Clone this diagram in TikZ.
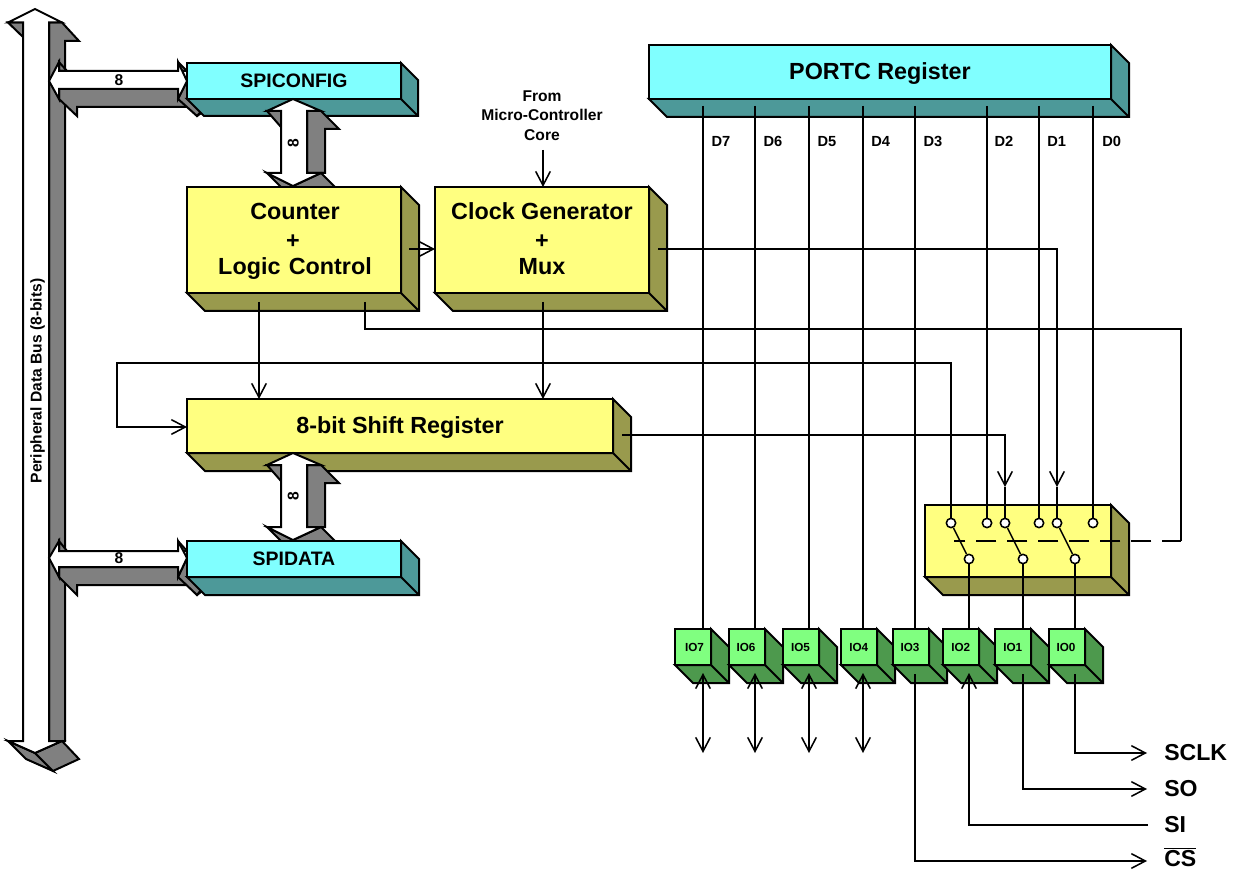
\documentclass[tikz,border=0pt]{standalone}
\usepackage{fontspec}
\setmainfont{Liberation Sans}
\usetikzlibrary{arrows.meta}
\definecolor{cy}{HTML}{80FFFF}\definecolor{cyd}{HTML}{4D9999}
\definecolor{ye}{HTML}{FFFF80}\definecolor{yed}{HTML}{999A4D}
\definecolor{gr}{HTML}{80FF80}\definecolor{grd}{HTML}{4D994D}
\definecolor{gy}{HTML}{808080}
\tikzset{
 x=0.75pt,y=-0.75pt,
 edge/.style={line width=1.5pt,line join=miter,draw=black},
 wire/.style={line width=1.15pt,draw=black},
 tip/.style={wire,-{Straight Barb[length=10.5pt,width=11pt,line width=1.15pt]}},
 tips/.style={wire,{Straight Barb[length=10.5pt,width=11pt,line width=1.15pt]}-{Straight Barb[length=10.5pt,width=11pt,line width=1.15pt]}},
 pin/.style={circle,draw=black,fill=white,line width=1.15pt,minimum size=7pt,inner sep=0pt},
 big/.style={font=\fontsize{17.5}{20}\bfseries\selectfont,inner sep=0pt,anchor=base},
 mid/.style={font=\fontsize{14.6}{17}\bfseries\selectfont,inner sep=0pt,anchor=base},
 small/.style={font=\fontsize{11.7}{14}\bfseries\selectfont,inner sep=0pt,anchor=base},
 dl/.style={font=\fontsize{11}{13}\bfseries\selectfont,inner sep=0pt,anchor=base},
 iol/.style={font=\fontsize{8.8}{10}\bfseries\selectfont,inner sep=0pt,anchor=base},
 sig/.style={font=\fontsize{17.3}{20}\bfseries\selectfont,inner sep=0pt,anchor=base west},
}
% name, x1,y1,x2,y2, depth, front, side
\newcommand{\tdbox}[8]{%
 \pgfmathsetmacro{\bxe}{#4+#6}\pgfmathsetmacro{\bye}{#5+#6}%
 \pgfmathsetmacro{\bxl}{#2+#6}\pgfmathsetmacro{\byt}{#3+#6}%
 \pgfmathsetmacro{\bwd}{(#4-#2)*0.75}\pgfmathsetmacro{\bht}{(#5-#3)*0.75}%
 \pgfmathsetmacro{\bcx}{(#2+#4)/2}\pgfmathsetmacro{\bcy}{(#3+#5)/2}%
 \draw[edge,fill=#8] (#2,#5)--(\bxl,\bye)--(\bxe,\bye)--(\bxe,\byt)--(#4,#3)--(#4,#5)--cycle;
 \draw[edge] (#4,#5)--(\bxe,\bye);
 \node[edge,fill=#7,minimum width=\bwd pt,minimum height=\bht pt,inner sep=0pt,outer sep=0pt] (#1) at (\bcx,\bcy) {};
}
% horizontal double arrow: corner top, shaft top, mid, shaft bottom, corner bottom, depth line, head depth
\newcommand{\hbig}[7]{%
 \draw[edge,fill=gy] (59,#4)--(59,#5)--(77,#7)--(77,#6)--(188,#6)--(197,#7)--(210,#6)--(178,#4)--cycle;
 \draw[edge,fill=gy] (178,#5)--(197,#7)--(205,#6)--(187,#3)--cycle;
 \draw[edge,fill=gy] (59,#1)--(67,#2)--(59,#2)--cycle;
 \draw[edge,fill=gy] (178,#1)--(187,#2)--(178,#2)--cycle;
 \draw[edge,fill=white] (49,#3)--(59,#1)--(59,#2)--(178,#2)--(178,#1)--(187,#3)--(178,#5)--(178,#4)--(59,#4)--(59,#5)--cycle;
}
% vertical double arrow
\newcommand{\vbig}{%
 \draw[edge,fill=gy] (267,111)--(281,127)--(281,111)--cycle;
 \draw[edge,fill=gy] (307,111)--(321,111)--(339,129)--(325,129)--(325,173)--(307,173)--cycle;
 \draw[edge,fill=gy] (267,173)--(293,186)--(311,204)--(285,191)--cycle;
 \draw[edge,fill=gy] (293,186)--(321,173)--(339,191)--(311,204)--cycle;
 \draw[edge,fill=white] (293,99)--(321,111)--(307,111)--(307,173)--(321,173)--(293,186)--(267,173)--(281,173)--(281,111)--(267,111)--cycle;
}
\begin{document}
\begin{tikzpicture}
\useasboundingbox (0,0) rectangle (1233,870);
\fill[white] (0,0) rectangle (1233,870);
% peripheral bus
\draw[edge,fill=gy] (8,22.5)--(23,37)--(23,22.5)--cycle;
\draw[edge,fill=gy] (49,22.5)--(62,22.5)--(79,41)--(65,41)--(65,741)--(49,741)--cycle;
\draw[edge,fill=gy] (8,741)--(35,753)--(53,771)--(26,759)--cycle;
\draw[edge,fill=gy] (35,753)--(62,741)--(79,759)--(53,771)--cycle;
\draw[edge,fill=white] (35,9)--(62,22.5)--(49,22.5)--(49,741)--(62,741)--(35,753)--(8,741)--(23,741)--(23,22.5)--(8,22.5)--cycle;
\node[small,rotate=90] (buslabel) at (41.5,381) {Peripheral Data Bus (8-bits)};
% horizontal links
\hbig{62}{71}{81}{89}{99}{107}{116}
\hbig{541}{551}{558}{567}{577}{585}{595}
\node[small] (lblA) at (119,86) {8};
\node[small] (lblB) at (119,563.5) {8};
% boxes and wide arrows
\tdbox{spiconfig}{187}{63}{401}{99}{17}{cy}{cyd}
\node[mid] (tA) at (294,87.3) {SPICONFIG};
\vbig
\node[small,rotate=90] (lblC) at (298.5,143) {8};
\tdbox{counter}{187}{187}{401}{293}{18}{ye}{yed}
\node[big] (tB) at (295,220) {Counter};
\node[big] (tC) at (293,249) {+};
\node[big] (tD) at (295,275) {Logic\hspace{0.08em} Control};
\tdbox{clock}{435}{187}{649}{293}{18}{ye}{yed}
\node[big] (tE) at (542,220) {Clock Generator};
\node[big] (tF) at (542,249) {+};
\node[big] (tG) at (542,275) {Mux};
\tdbox{shift}{187}{399}{613}{453}{18}{ye}{yed}
\node[big] (tH) at (400,433) {8-bit Shift Register};
\begin{scope}[shift={(0,354)}]\vbig\end{scope}
\node[small,rotate=90] (lblD) at (298.5,496) {8};
\tdbox{spidata}{187}{541}{401}{577}{18}{cy}{cyd}
\node[mid] (tI) at (294,565) {SPIDATA};
\tdbox{portc}{649}{45}{1111}{99}{18}{cy}{cyd}
\node[big] (tJ) at (880,79.3) {PORTC Register};
\tdbox{sw}{925}{505}{1111}{577}{18}{ye}{yed}
\tdbox{io7}{675}{629}{711}{665}{18}{gr}{grd}
\tdbox{io6}{729}{629}{765}{665}{18}{gr}{grd}
\tdbox{io5}{783}{629}{819}{665}{18}{gr}{grd}
\tdbox{io4}{841}{629}{877}{665}{18}{gr}{grd}
\tdbox{io3}{893}{629}{929}{665}{18}{gr}{grd}
\tdbox{io2}{943}{629}{979}{665}{18}{gr}{grd}
\tdbox{io1}{995}{629}{1031}{665}{18}{gr}{grd}
\tdbox{io0}{1049}{629}{1085}{665}{18}{gr}{grd}
\foreach \x/\t in {694.5/IO7,746/IO6,800.5/IO5,858.8/IO4,910/IO3,960.8/IO2,1012.8/IO1,1066/IO0}
  \node[iol] (l\t) at (\x,651) {\t};
% switch pins
\node[pin] (p1) at (951,523) {};
\node[pin] (p2) at (987,523) {};
\node[pin] (p3) at (1005,523) {};
\node[pin] (p4) at (1039,523) {};
\node[pin] (p5) at (1057,523) {};
\node[pin] (p6) at (1093,523) {};
\node[pin] (q1) at (969,559) {};
\node[pin] (q2) at (1023,559) {};
\node[pin] (q3) at (1075,559) {};
\draw[wire] (p1)--(q1);
\draw[wire] (p3)--(q2);
\draw[wire] (p5)--(q3);
% PORTC data lines
\foreach \n/\x in {a/703,b/755,c/809,d/863,e/915}{
  \coordinate (s\n) at (\x,106);
  \coordinate (e\n) at (\x,629);
  \draw[wire] (s\n)--(e\n);
}
\foreach \n/\x/\e in {f/987/p2,g/1039/p4,h/1093/p6}{
  \coordinate (s\n) at (\x,106);
  \draw[wire] (s\n)--(\e);
}
\node[dl] (d7) at (721,146.7) {D7};
\node[dl] (d6) at (773,146.7) {D6};
\node[dl] (d5) at (827,146.7) {D5};
\node[dl] (d4) at (880.7,146.7) {D4};
\node[dl] (d3) at (933,146.7) {D3};
\node[dl] (d2) at (1004,146.7) {D2};
\node[dl] (d1) at (1056.7,146.7) {D1};
\node[dl] (d0) at (1111.7,146.7) {D0};
% IO to switch
\coordinate (ioa) at (969,629);\coordinate (iob) at (1023,629);\coordinate (ioc) at (1075,629);
\draw[wire] (q1)--(ioa);\draw[wire] (q2)--(iob);\draw[wire] (q3)--(ioc);
% clock input
\node[small] (fromA) at (542,102) {From};
\node[small] (fromB) at (542,120.7) {Micro-Controller};
\node[small] (fromC) at (542,141) {Core};
\coordinate (fromEnd) at (543,150);\coordinate (clkIn) at (543,187);
\draw[tip] (fromEnd)--(clkIn);
% control connectors
\coordinate (cntR) at (409,249);\coordinate (clkL) at (435,249);
\draw[tip] (cntR)--(clkL);
\coordinate (cntB) at (259,302);\coordinate (shT1) at (259,399);
\draw[tip] (cntB)--(shT1);
\coordinate (clkB) at (543,302);\coordinate (shT2) at (543,399);
\draw[tip] (clkB)--(shT2);
\coordinate (clkR) at (658,249);\coordinate (clkC) at (1057,249);\coordinate (clkT) at (1057,487);
\draw[tip] (clkR)--(clkC)--(clkT);
\draw[wire] (clkT)--(p5);
\coordinate (shR) at (622,435);\coordinate (shC) at (1005,435);\coordinate (shX) at (1005,487);
\draw[tip] (shR)--(shC)--(shX);
\draw[wire] (shX)--(p3);
\coordinate (fbA) at (951,363);\coordinate (fbB) at (117,363);\coordinate (fbC) at (117,427);\coordinate (shL) at (187,427);
\draw[tip] (p1)--(fbA)--(fbB)--(fbC)--(shL);
\coordinate (ctlA) at (365,302);\coordinate (ctlB) at (365,329);\coordinate (ctlC) at (1181,329);\coordinate (ctlD) at (1181,541);\coordinate (ctlE) at (954,541);
\draw[wire] (ctlA)--(ctlB)--(ctlC)--(ctlD);
\draw[wire,dash pattern=on 15.3pt off 7.95pt,dash phase=1pt] (ctlD)--(ctlE);
% IO pads
\foreach \x/\n in {703/a,755/b,809/c,863/d}{
  \coordinate (u\n) at (\x,673);\coordinate (v\n) at (\x,753);
  \draw[tips] (u\n)--(v\n);
}
\coordinate (k3) at (915,674);\coordinate (k3b) at (915,861);\coordinate (k3e) at (1147,861);
\draw[tip] (k3)--(k3b)--(k3e);
\coordinate (k2) at (969,673);\coordinate (k2b) at (969,825);\coordinate (k2e) at (1148,825);
\draw[tip] (k2e)--(k2b)--(k2);
\coordinate (k1) at (1023,674);\coordinate (k1b) at (1023,789);\coordinate (k1e) at (1147,789);
\draw[tip] (k1)--(k1b)--(k1e);
\coordinate (k0) at (1075,674);\coordinate (k0b) at (1075,753);\coordinate (k0e) at (1147,753);
\draw[tip] (k0)--(k0b)--(k0e);
\node[sig] (sclk) at (1164,760.5) {SCLK};
\node[sig] (so) at (1164,796.7) {SO};
\node[sig] (si) at (1164,832) {SI};
\node[sig] (cs) at (1164,866.5) {$\overline{\mbox{CS}}$};
\end{tikzpicture}
\end{document}
